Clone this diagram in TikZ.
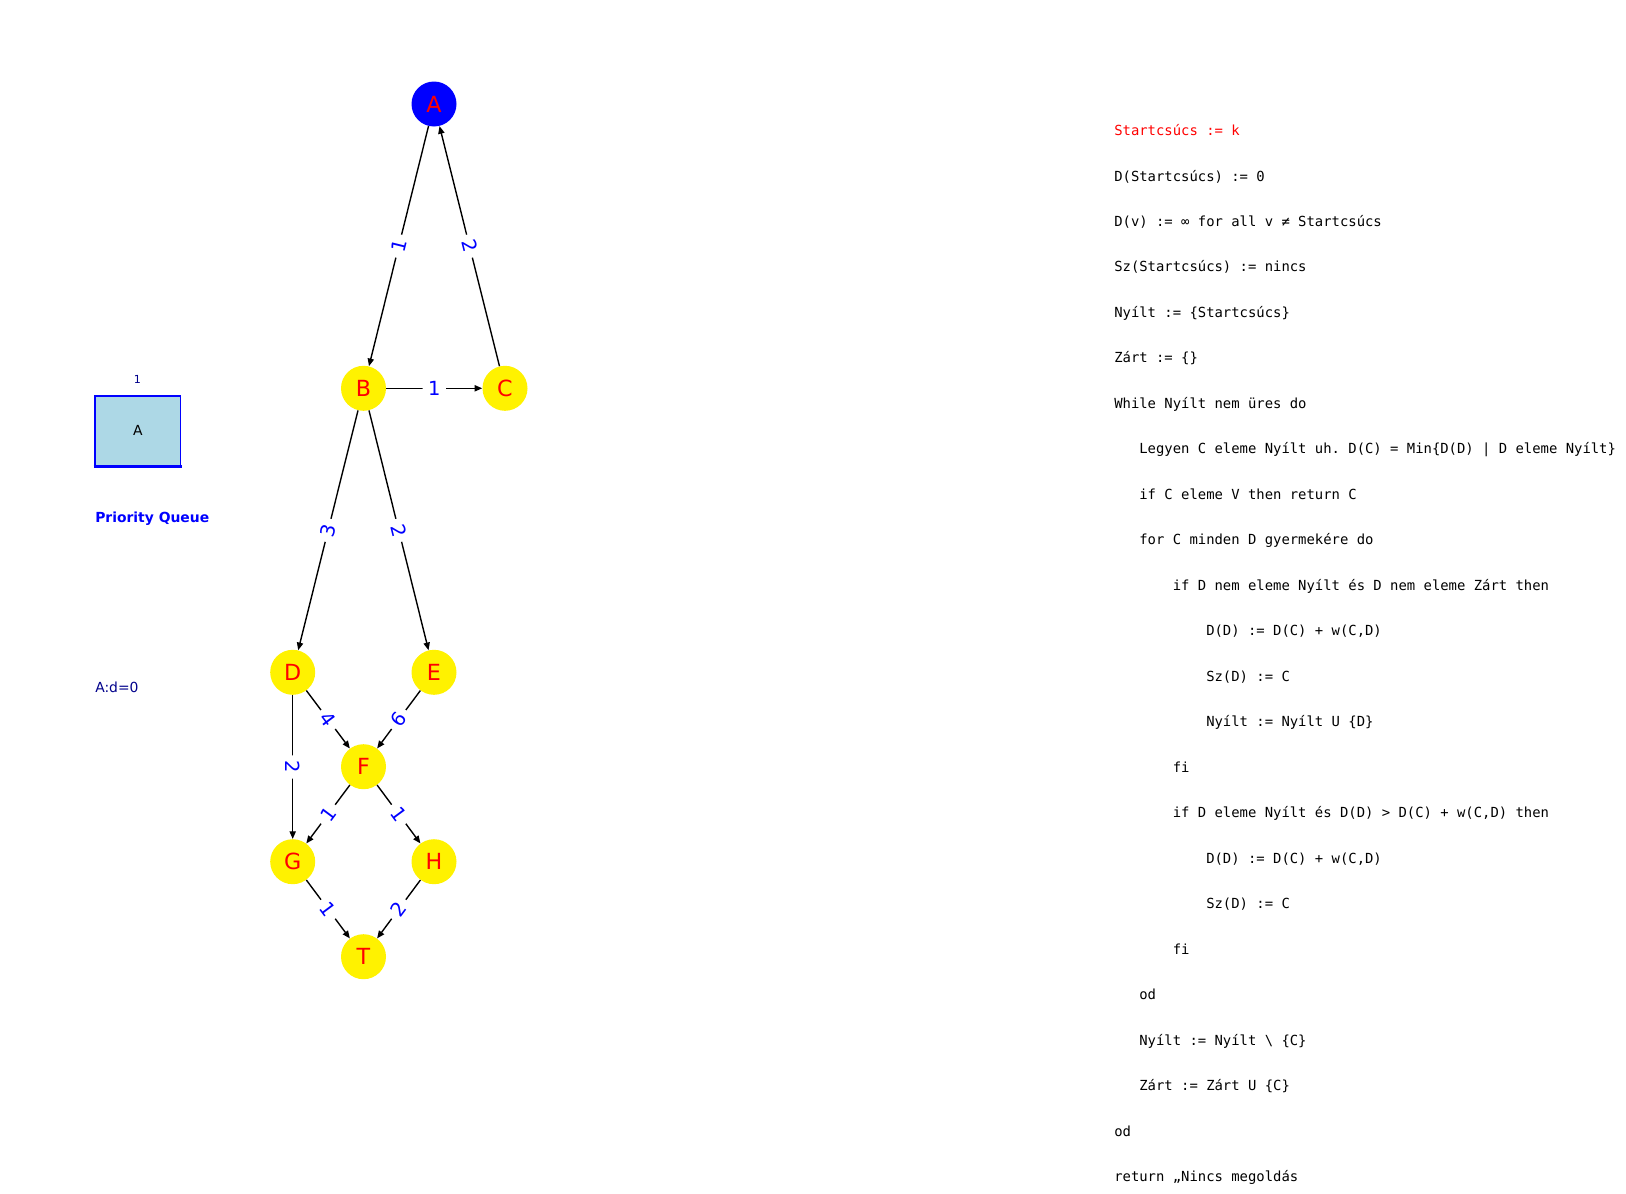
\documentclass[tikz,border=0pt]{standalone}
\usepackage{fontspec}
\setmainfont{DejaVu Sans}
\newfontfamily\codefont{DejaVu Sans Mono}
\usetikzlibrary{arrows.meta}
\definecolor{lblue}{RGB}{173,216,230}
\definecolor{dblue}{RGB}{0,0,139}
\frenchspacing
\begin{document}
\begin{tikzpicture}[x=0.72pt,y=-0.72pt,
  vert/.style={circle, fill=yellow, minimum size=32.4pt, inner sep=0pt, text=red, font=\fontsize{16}{16}\selectfont},
  startvert/.style={vert, fill=blue},
  edge/.style={-{Triangle[length=5.5pt,width=4.5pt]}, line width=1pt, black},
  wbase/.style={midway, fill=white, inner sep=4pt, rounded corners=2pt, text=blue, font=\fontsize{14}{14}\selectfont},
  wlabel/.style={wbase, sloped},
  codeline/.style={anchor=base west, inner sep=0pt, font=\codefont\fontsize{10}{12}\selectfont},
]
\useasboundingbox (0,0) rectangle (1626,1194);

% graph nodes
\node[startvert] (A) at (434,104) {A};
\node[vert] (B) at (363.5,388.3) {B};
\node[vert] (C) at (505,388.3) {C};
\node[vert] (D) at (292.7,672.3) {D};
\node[vert] (E) at (434,672.3) {E};
\node[vert] (F) at (363.5,766.7) {F};
\node[vert] (G) at (292.7,861.7) {G};
\node[vert] (H) at (434,861.7) {H};
\node[vert] (T) at (363.5,956.7) {T};

% edges
\draw[edge] (A) -- node[wlabel] {1} (B);
\draw[edge] (C) -- node[wlabel] {2} (A);
\draw[edge] (B) -- node[wlabel] {1} (C);
\draw[edge] (B) -- node[wlabel] {3} (D);
\draw[edge] (B) -- node[wlabel] {2} (E);
\draw[edge] (D) -- node[wlabel] {4} (F);
\draw[edge] (E) -- node[wlabel] {6} (F);
\draw[edge] (D) -- node[wbase, rotate=-90] {2} (G);
\draw[edge] (F) -- node[wlabel] {1} (G);
\draw[edge] (F) -- node[wlabel] {1} (H);
\draw[edge] (G) -- node[wlabel] {1} (T);
\draw[edge] (H) -- node[wlabel] {2} (T);

% priority queue
\node[draw=blue, fill=lblue, line width=1pt, minimum width=61.7pt, minimum height=50.2pt, inner sep=0pt, font=\fontsize{10}{12}\selectfont] (qbox) at (137.9,430.9) {A};
\draw[blue, line width=2.2pt] ([xshift=-0.5pt]qbox.south west) -- ([xshift=0.5pt]qbox.south east);
\node[text=dblue, font=\fontsize{8}{10}\selectfont, inner sep=0pt] (qidx) at (137.3,379.3) {1};
\node[anchor=base west, inner sep=0pt, text=blue, font=\bfseries\fontsize{10}{12}\selectfont] (pq) at (95,522.3) {Priority Queue};
\node[anchor=base west, inner sep=0pt, text=dblue, font=\fontsize{10}{12}\selectfont] (dist) at (95,692.3) {A:d=0};

% pseudo code
\node[codeline, text=red] (l0) at (1114,135.5) {Startcsúcs := k};
\node[codeline] (l1) at (1114,181.0) {D(Startcsúcs) := 0};
\node[codeline] (l2) at (1114,226.5) {D(v) := ∞ for all v ≠ Startcsúcs};
\node[codeline] (l3) at (1114,271.9) {Sz(Startcsúcs) := nincs};
\node[codeline] (l4) at (1114,317.4) {Nyílt := \{Startcsúcs\}};
\node[codeline] (l5) at (1114,362.9) {Zárt := \{\}};
\node[codeline] (l6) at (1114,408.4) {While Nyílt nem üres do};
\node[codeline] (l7) at (1114,453.9) {\phantom{xxx}Legyen C eleme Nyílt uh. D(C) = Min\{D(D) | D eleme Nyílt\}};
\node[codeline] (l8) at (1114,499.3) {\phantom{xxx}if C eleme V then return C};
\node[codeline] (l9) at (1114,544.8) {\phantom{xxx}for C minden D gyermekére do};
\node[codeline] (l10) at (1114,590.3) {\phantom{xxxxxxx}if D nem eleme Nyílt és D nem eleme Zárt then};
\node[codeline] (l11) at (1114,635.8) {\phantom{xxxxxxxxxxx}D(D) := D(C) + w(C,D)};
\node[codeline] (l12) at (1114,681.3) {\phantom{xxxxxxxxxxx}Sz(D) := C};
\node[codeline] (l13) at (1114,726.7) {\phantom{xxxxxxxxxxx}Nyílt := Nyílt U \{D\}};
\node[codeline] (l14) at (1114,772.2) {\phantom{xxxxxxx}fi};
\node[codeline] (l15) at (1114,817.7) {\phantom{xxxxxxx}if D eleme Nyílt és D(D) > D(C) + w(C,D) then};
\node[codeline] (l16) at (1114,863.2) {\phantom{xxxxxxxxxxx}D(D) := D(C) + w(C,D)};
\node[codeline] (l17) at (1114,908.7) {\phantom{xxxxxxxxxxx}Sz(D) := C};
\node[codeline] (l18) at (1114,954.1) {\phantom{xxxxxxx}fi};
\node[codeline] (l19) at (1114,999.6) {\phantom{xxx}od};
\node[codeline] (l20) at (1114,1045.1) {\phantom{xxx}Nyílt := Nyílt \textbackslash{} \{C\}};
\node[codeline] (l21) at (1114,1090.6) {\phantom{xxx}Zárt := Zárt U \{C\}};
\node[codeline] (l22) at (1114,1136.1) {od};
\node[codeline] (l23) at (1114,1181.5) {return „Nincs megoldás};
\end{tikzpicture}
\end{document}
